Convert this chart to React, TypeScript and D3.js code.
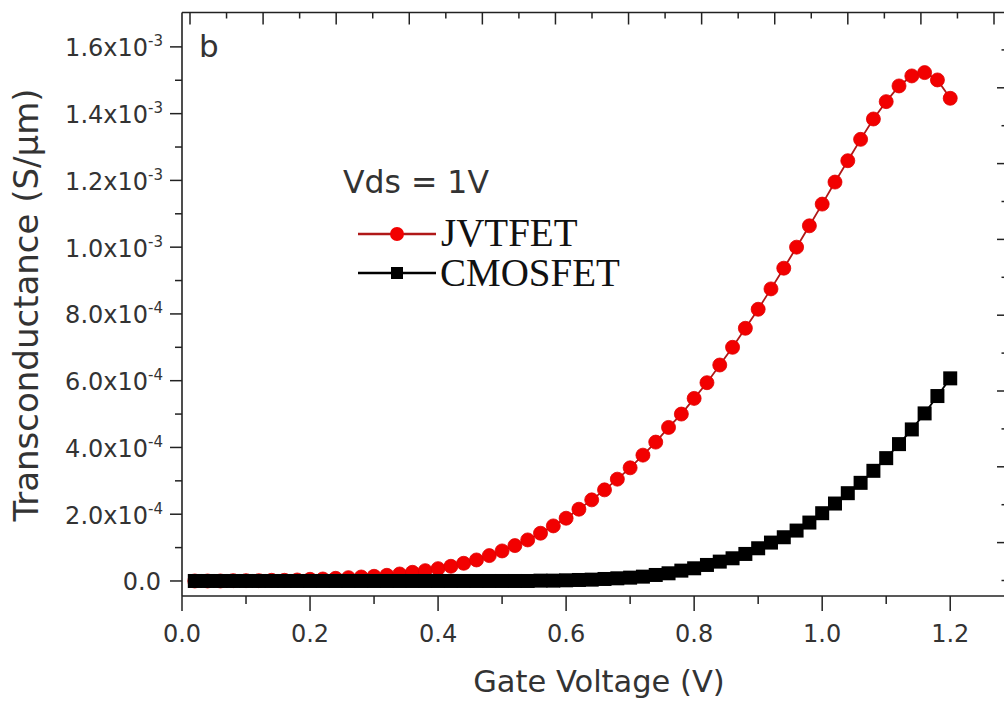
import React from 'react';
import * as d3 from 'd3';

const W = 1004;
const H = 706;

// Gate voltage (V)
const gateVoltage = [
  0.02, 0.04, 0.06, 0.08, 0.10, 0.12, 0.14, 0.16, 0.18, 0.20,
  0.22, 0.24, 0.26, 0.28, 0.30, 0.32, 0.34, 0.36, 0.38, 0.40,
  0.42, 0.44, 0.46, 0.48, 0.50, 0.52, 0.54, 0.56, 0.58, 0.60,
  0.62, 0.64, 0.66, 0.68, 0.70, 0.72, 0.74, 0.76, 0.78, 0.80,
  0.82, 0.84, 0.86, 0.88, 0.90, 0.92, 0.94, 0.96, 0.98, 1.00,
  1.02, 1.04, 1.06, 1.08, 1.10, 1.12, 1.14, 1.16, 1.18, 1.20,
];

// Transconductance, in units of 1e-3 S/um
const jvtfetMilli = [
  0.000, 0.000, 0.000, 0.001, 0.001, 0.001, 0.002, 0.002, 0.003, 0.005,
  0.006, 0.008, 0.010, 0.012, 0.014, 0.017, 0.021, 0.026, 0.031, 0.037,
  0.044, 0.053, 0.063, 0.076, 0.090, 0.106, 0.123, 0.143, 0.165, 0.188,
  0.215, 0.243, 0.273, 0.305, 0.339, 0.377, 0.416, 0.460, 0.500, 0.547,
  0.594, 0.647, 0.700, 0.757, 0.814, 0.875, 0.937, 1.000, 1.064, 1.129,
  1.195, 1.259, 1.323, 1.384, 1.436, 1.483, 1.513, 1.523, 1.501, 1.446,
];

const cmosfetMilli = [
  0.000, 0.000, 0.000, 0.000, 0.000, 0.000, 0.000, 0.000, 0.000, 0.000,
  0.000, 0.000, 0.000, 0.000, 0.000, 0.000, 0.000, 0.000, 0.000, 0.000,
  0.000, 0.000, 0.000, 0.000, 0.000, 0.000, 0.000, 0.001, 0.001, 0.002,
  0.003, 0.004, 0.006, 0.008, 0.010, 0.013, 0.018, 0.023, 0.031, 0.038,
  0.048, 0.058, 0.068, 0.081, 0.098, 0.115, 0.131, 0.151, 0.175, 0.203,
  0.232, 0.263, 0.294, 0.330, 0.368, 0.410, 0.454, 0.502, 0.554, 0.607,
];

const xTickValues = [0, 0.2, 0.4, 0.6, 0.8, 1.0, 1.2];
const xTickLabels = ['0.0', '0.2', '0.4', '0.6', '0.8', '1.0', '1.2'];
const xMinorValues = [0.1, 0.3, 0.5, 0.7, 0.9, 1.1];

const yTickValues = [0, 2e-4, 4e-4, 6e-4, 8e-4, 1.0e-3, 1.2e-3, 1.4e-3, 1.6e-3];
const yTickMantissa = ['0.0', '2.0x10', '4.0x10', '6.0x10', '8.0x10', '1.0x10', '1.2x10', '1.4x10', '1.6x10'];
const yTickExponent = ['', '-4', '-4', '-4', '-4', '-3', '-3', '-3', '-3'];
const yMinorValues = [1e-4, 3e-4, 5e-4, 7e-4, 9e-4, 1.1e-3, 1.3e-3, 1.5e-3];

const seriesNames = ['JVTFET', 'CMOSFET'];

const SANS = '"DejaVu Sans", Verdana, sans-serif';
const SERIF = '"Liberation Serif", "Times New Roman", serif';
const TEXT = '#333';
const AXIS = '#222';

export default function App() {
  const left = 182;
  const right = 1004;
  const top = 12.5;
  const bottom = 596;

  const x = d3.scaleLinear().domain([0, 1.284]).range([left, right]);
  const y = d3.scaleLinear().domain([-0.045e-3, 1.703e-3]).range([bottom, top]);

  // neighbouring panel's axes visible at the picture's edges
  const topScale = d3.scaleLinear().domain([0, 11]).range([190, 994]);
  const topMajor = d3.range(0, 12);
  const topMinor = d3.range(0.5, 11, 1);
  const rightScale = d3.scaleLinear().domain([0, 8]).range([12, 618.4]);
  const rightMajor = d3.range(1, 8);
  const rightMinor = d3.range(0.5, 8, 1);

  const jv = gateVoltage.map((v, i) => [v, jvtfetMilli[i] * 1e-3] as [number, number]);
  const cm = gateVoltage.map((v, i) => [v, cmosfetMilli[i] * 1e-3] as [number, number]);
  const line = d3.line<[number, number]>().x(d => x(d[0])).y(d => y(d[1]));

  const sq = 14;
  const r = 7;

  return (
    <svg width={W} height={H} viewBox={`0 0 ${W} ${H}`}
      style={{ position: 'absolute', left: 0, top: 0, background: '#fff' }}>
      <rect x={0} y={0} width={W} height={H} fill="#fff" />

      {/* frame lines */}
      <line x1={left} x2={right} y1={top} y2={top} stroke={AXIS} strokeWidth={1.6} />
      <line x1={left} x2={left} y1={top} y2={bottom} stroke={AXIS} strokeWidth={1.6} />
      <line x1={left} x2={right} y1={bottom} y2={bottom} stroke={AXIS} strokeWidth={1.6} />

      {/* top ticks */}
      {topMajor.map(t => (
        <line key={'tM' + t} x1={topScale(t)} x2={topScale(t)} y1={top} y2={top + 12} stroke={AXIS} strokeWidth={1.5} />
      ))}
      {topMinor.map(t => (
        <line key={'tm' + t} x1={topScale(t)} x2={topScale(t)} y1={top} y2={top + 6} stroke={AXIS} strokeWidth={1.5} />
      ))}

      {/* right edge ticks */}
      {rightMajor.map(t => (
        <line key={'rM' + t} x1={997} x2={1004} y1={rightScale(t)} y2={rightScale(t)} stroke={AXIS} strokeWidth={1.5} />
      ))}
      {rightMinor.map(t => (
        <line key={'rm' + t} x1={1001.5} x2={1004} y1={rightScale(t)} y2={rightScale(t)} stroke={AXIS} strokeWidth={1.5} />
      ))}

      {/* x ticks */}
      {xTickValues.map((t, i) => (
        <g key={'x' + t}>
          <line x1={x(t)} x2={x(t)} y1={bottom} y2={bottom + 15} stroke={AXIS} strokeWidth={1.5} />
          <text x={x(t)} y={642} textAnchor="middle" fontFamily={SANS} fontSize={24} fill={TEXT}>{xTickLabels[i]}</text>
        </g>
      ))}
      {xMinorValues.map(t => (
        <line key={'xm' + t} x1={x(t)} x2={x(t)} y1={bottom} y2={bottom + 8} stroke={AXIS} strokeWidth={1.5} />
      ))}

      {/* y ticks */}
      {yTickValues.map((t, i) => (
        <g key={'y' + t}>
          <line x1={left - 12} x2={left} y1={y(t)} y2={y(t)} stroke={AXIS} strokeWidth={1.5} />
          <text x={yTickExponent[i] ? 163 : 161} y={y(t) + 9.5} textAnchor="end" fontFamily={SANS} fontSize={24} fill={TEXT}>
            {yTickMantissa[i]}
            {yTickExponent[i] ? (
              <tspan dy={-10} fontSize={15}>{yTickExponent[i]}</tspan>
            ) : null}
          </text>
        </g>
      ))}
      {yMinorValues.map(t => (
        <line key={'ym' + t} x1={left - 7} x2={left} y1={y(t)} y2={y(t)} stroke={AXIS} strokeWidth={1.5} />
      ))}

      {/* axis titles */}
      <text x={599} y={692} textAnchor="middle" fontFamily={SANS} fontSize={30.5} fill={TEXT}>Gate Voltage (V)</text>
      <text transform={`translate(38, 305) rotate(-90)`} textAnchor="middle" fontFamily={SANS} fontSize={34} fill={TEXT}>
        Transconductance (S/μm)
      </text>

      {/* panel letter */}
      <text x={199} y={57} fontFamily={SANS} fontSize={31} fill={TEXT}>b</text>

      {/* JVTFET series */}
      <path d={line(jv) || ''} fill="none" stroke="#b01818" strokeWidth={1.8} />
      {jv.map((d, i) => (
        <circle key={'c' + i} cx={x(d[0])} cy={y(d[1])} r={r} fill="#f20000" stroke="#e00000" strokeWidth={0.8} />
      ))}

      {/* CMOSFET series */}
      <path d={line(cm) || ''} fill="none" stroke="#000" strokeWidth={1.8} />
      {cm.map((d, i) => (
        <rect key={'s' + i} x={x(d[0]) - sq / 2} y={y(d[1]) - sq / 2} width={sq} height={sq} fill="#000" />
      ))}

      {/* legend */}
      <text x={343} y={193} fontFamily={SANS} fontSize={31.5} fill={TEXT}>Vds = 1V</text>
      <line x1={358} x2={436} y1={234} y2={234} stroke="#b01818" strokeWidth={2.5} />
      <circle cx={397} cy={234} r={r} fill="#f20000" />
      <text x={441} y={246} fontFamily={SERIF} fontSize={39} fill="#111">{seriesNames[0]}</text>
      <line x1={358} x2={436} y1={273} y2={273} stroke="#000" strokeWidth={2.5} />
      <rect x={397 - 6} y={273 - 6} width={12} height={12} fill="#000" />
      <text x={440} y={286} fontFamily={SERIF} fontSize={39} fill="#111">{seriesNames[1]}</text>
    </svg>
  );
}
